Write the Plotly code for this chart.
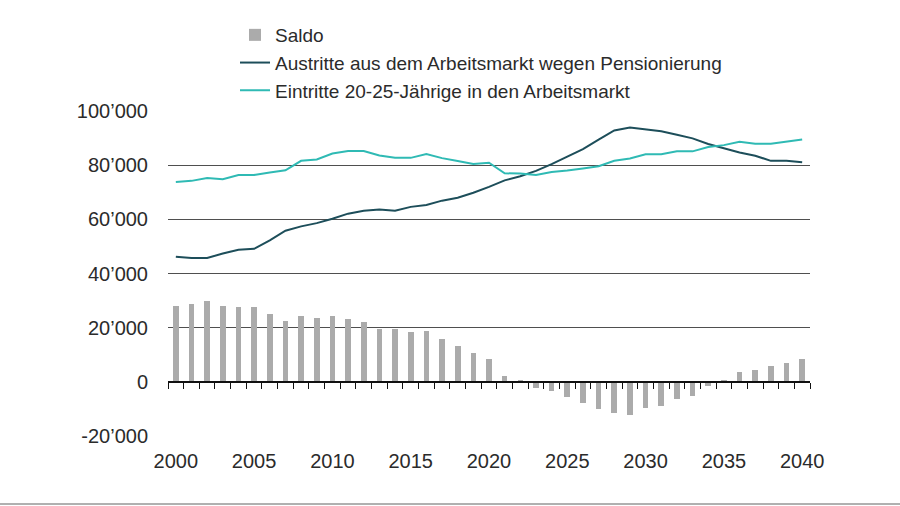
import plotly.graph_objects as go

years = list(range(2000, 2041))

saldo = [27900, 28600, 29900, 27900, 27500, 27500, 25100, 22300, 24400, 23500,
         24400, 23100, 22000, 19600, 19600, 18500, 18900, 16000, 13250, 10600,
         8500, 2100, 600, -2100, -3250, -5600, -7750, -10000, -11600, -12100,
         -9600, -8900, -6500, -5250, -1400, 750, 3500, 4400, 5900, 7100, 8250]

austritte = [46200, 45700, 45700, 47400, 48800, 49100, 52200, 55800, 57400, 58600,
             60200, 62100, 63200, 63600, 63200, 64600, 65300, 66900, 68000, 69800,
             72000, 74400, 75900, 77900, 80400, 83300, 85900, 89400, 92800, 93900,
             93300, 92500, 91200, 89900, 87800, 86300, 84700, 83500, 81600, 81600, 81100]

eintritte = [73800, 74200, 75300, 74800, 76400, 76400, 77300, 78100, 81600, 82100,
             84300, 85200, 85200, 83600, 82700, 82700, 84100, 82600, 81500, 80400,
             80900, 77000, 76900, 76400, 77500, 78000, 78800, 79600, 81600, 82500,
             84000, 84000, 85100, 85100, 86700, 87400, 88600, 87900, 87900, 88600, 89500]

y_ticks = [-20000, 0, 20000, 40000, 60000, 80000, 100000]
y_labels = ["-20’000", "0", "20’000", "40’000", "60’000", "80’000", "100’000"]
x_ticks = [2000, 2005, 2010, 2015, 2020, 2025, 2030, 2035, 2040]

FONT = "Liberation Sans, Arial, sans-serif"
TXT = "#2b2b2b"

fig = go.Figure()
fig.add_trace(go.Bar(x=years, y=saldo, name="Saldo", marker_color="#ababab",
                     marker_line_width=0, width=0.36))
fig.add_trace(go.Scatter(x=years, y=austritte, mode="lines",
                         name="Austritte aus dem Arbeitsmarkt wegen Pensionierung",
                         line=dict(color="#1d4e5a", width=2)))
fig.add_trace(go.Scatter(x=years, y=eintritte, mode="lines",
                         name="Eintritte 20-25-Jährige in den Arbeitsmarkt",
                         line=dict(color="#2fbab4", width=2)))

ymin, ymax = -20000, 100000
zero_pos = (0 - ymin) / (ymax - ymin)
x_lo, x_hi = years[0] - 0.5, years[-1] + 0.5
boundaries = [y - 0.5 for y in years] + [x_hi]

fig.update_layout(
    width=900, height=506,
    margin=dict(l=168, r=90, t=111, b=70),
    paper_bgcolor="white", plot_bgcolor="white",
    font=dict(family=FONT, size=20, color=TXT),
    showlegend=True,
    legend=dict(x=(235 - 168) / 642, y=1 + (111 - 16) / 325, xanchor="left", yanchor="top",
                bgcolor="rgba(0,0,0,0)", font=dict(size=19, color=TXT),
                itemwidth=30, tracegroupgap=0),
    bargap=0,
    xaxis=dict(range=[x_lo, x_hi], tickmode="array", tickvals=x_ticks,
               ticktext=[str(v) for v in x_ticks], showgrid=False, zeroline=False,
               showline=False, ticks="", ticklabelstandoff=11,
               tickfont=dict(size=20, color=TXT)),
    xaxis2=dict(range=[x_lo, x_hi], overlaying="x", anchor="free", position=zero_pos,
                side="bottom", tickmode="array", tickvals=boundaries,
                showticklabels=False, ticks="outside", ticklen=6, tickwidth=1,
                tickcolor="#111", showline=True, linecolor="#111", linewidth=1.5,
                showgrid=False, zeroline=False),
    yaxis=dict(range=[ymin, ymax], tickmode="array", tickvals=y_ticks, ticktext=y_labels,
               showgrid=True, gridcolor="#4f4f4f", gridwidth=1.3, zeroline=False,
               showline=False, ticks="", ticklabelstandoff=19,
               tickfont=dict(size=20, color=TXT)),
    shapes=[dict(type="line", xref="paper", yref="paper", x0=-168 / 642, x1=(900 - 168) / 642,
                 y0=-68 / 325, y1=-68 / 325, line=dict(color="#b0b0b0", width=2))],
)

# invisible trace so the zero-line tick axis is registered
fig.add_trace(go.Scatter(x=[x_lo], y=[0], xaxis="x2", mode="markers",
                         marker=dict(opacity=0), showlegend=False, hoverinfo="skip"))

fig.write_html("out.html", config={"displayModeBar": False},
               post_script="document.body.style.margin='0';document.body.style.overflow='hidden';")
